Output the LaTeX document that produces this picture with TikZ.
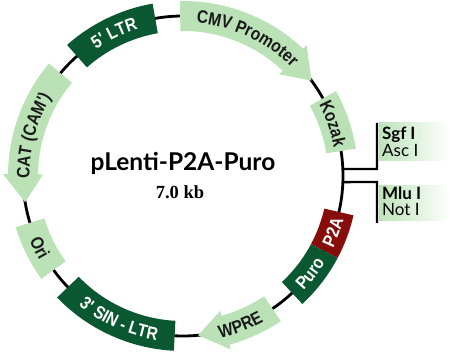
\documentclass[tikz,border=0pt]{standalone}
\usepackage{fontspec}
\usetikzlibrary{decorations.text}
\newfontfamily\lsans{Liberation Sans}[FakeStretch=0.86]
\newfontfamily\lato{Lato}
\newfontfamily\lserif{Liberation Serif}
\definecolor{lgreen}{RGB}{186,226,182}
\definecolor{dgreen}{RGB}{10,88,50}
\definecolor{dred}{RGB}{135,12,12}
\definecolor{txtdark}{RGB}{25,25,25}
\newcommand\featfont{\fontsize{18}{18}\selectfont\lsans\bfseries}
\newcommand\featbox[3]{\fill[#3] (#1:175pt) arc[start angle=#1,end angle=#2,radius=175pt] -- (#2:145pt) arc[start angle=#2,end angle=#1,radius=145pt] -- cycle;}
\newcommand\featarrow[4]{\fill[#4] (#1:175pt) arc[start angle=#1,end angle=#2,radius=175pt] -- (#2:180pt) -- (#3:160pt) -- (#2:140pt) -- (#2:145pt) arc[start angle=#2,end angle=#1,radius=145pt] -- cycle;}
\newcommand\cwtext[3]{\path[decorate,decoration={text along path,text align=center,text={|\featfont\color{#3}|#2}}] (#1+40:153.6pt) arc[start angle=#1+40,end angle=#1-40,radius=153.6pt];}
\newcommand\ccwtext[3]{\path[decorate,decoration={text along path,text align=center,text={|\featfont\color{#3}|#2}}] (#1-40:166.4pt) arc[start angle=#1-40,end angle=#1+40,radius=166.4pt];}
\begin{document}
\begin{tikzpicture}[x=1pt,y=1pt,
  rsite/.style={line width=2.3pt,black},
  boldlab/.style={anchor=base west,font=\fontsize{17}{17}\selectfont\lato\bfseries,inner sep=0pt},
  reglab/.style={anchor=base west,font=\fontsize{17}{17}\selectfont\lato,inner sep=0pt}]
\useasboundingbox (0,0) rectangle (450,355);
% restriction site label backgrounds
\shade[left color=lgreen!95,right color=white] (379,194) rectangle (450,232);
\shade[left color=lgreen!95,right color=white] (379,134) rectangle (450,169);
\begin{scope}[shift={(183,179)}]
\coordinate (c1) at (2.5:160pt);
\coordinate (c2) at (-2.2:160pt);
\draw[line width=2.8pt] (0,0) circle[radius=160pt];
\featbox{100}{131.5}{dgreen}
\featarrow{91}{46.6}{36.6}{lgreen}
\featbox{9}{29}{lgreen}
\featbox{-13}{-28}{dred}
\featbox{-28}{-47}{dgreen}
\featarrow{-56}{-74.6}{-84.6}{lgreen}
\featbox{224}{267}{dgreen}
\featbox{197}{216}{lgreen}
\featarrow{140}{179.4}{189.4}{lgreen}
\cwtext{115.7}{5' LTR}{white}
\cwtext{65}{CMV Promoter}{txtdark}
\cwtext{19.2}{Kozak}{txtdark}
\cwtext{165}{CAT (CAM')}{txtdark}
\ccwtext{-20.5}{P2A}{white}
\ccwtext{-37.5}{Puro}{white}
\ccwtext{-69}{WPRE}{txtdark}
\ccwtext{246}{3' SIN - LTR}{white}
\ccwtext{206.5}{Ori}{txtdark}
\end{scope}
\coordinate (r1a) at (377,186);
\coordinate (r1b) at (377,232);
\coordinate (r2a) at (377,173);
\coordinate (r2b) at (377,132);
\draw[rsite] (c1) -- (r1a) -- (r1b);
\draw[rsite] (c2) -- (r2a) -- (r2b);
\node[boldlab] (sgf) at (382,215) {Sgf I};
\node[reglab] (asc) at (382,198) {Asc I};
\node[boldlab] (mlu) at (382,155) {Mlu I};
\node[reglab] (notI) at (382,139) {Not I};
\node[anchor=base,inner sep=0pt,font=\fontsize{24.5}{24.5}\selectfont\lato\bfseries] (title) at (183,184) {pLenti-P2A-Puro};
\node[anchor=base,inner sep=0pt,font=\fontsize{18.5}{18.5}\selectfont\lserif\bfseries] (size) at (180,156) {7.0 kb};
\end{tikzpicture}
\end{document}
